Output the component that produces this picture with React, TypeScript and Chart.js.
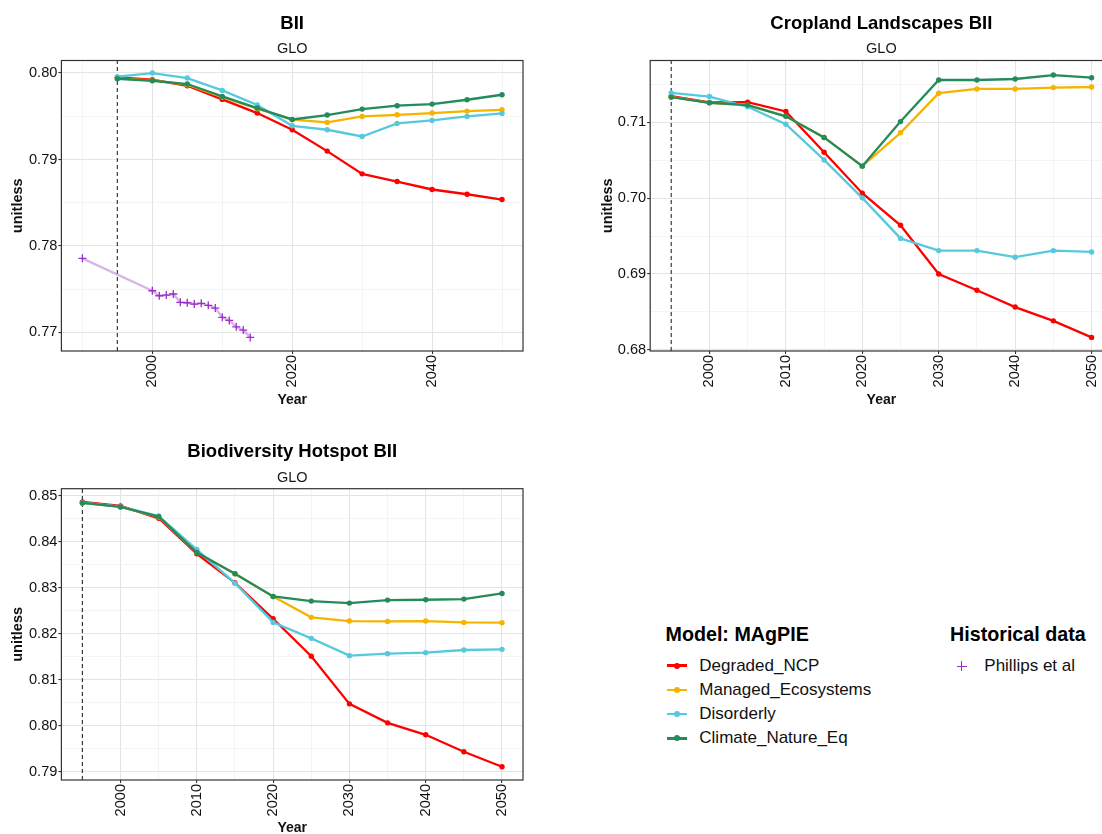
import React, { useEffect, useRef } from "react";
import { Chart, registerables } from "chart.js";

Chart.register(...registerables);

const FONT = '"Liberation Sans", Arial, Helvetica, sans-serif';

// ---------- data ----------
const scenarioNames = ["Degraded_NCP", "Managed_Ecosystems", "Disorderly", "Climate_Nature_Eq"];
const scenarioColors = ["#ff0000", "#f5b400", "#56c9dd", "#238b5c"];
const histName = "Phillips et al";
const histColor = "#9a2fc9";
const histLineColor = "rgba(190, 130, 220, 0.6)";

const years = [1995, 2000, 2005, 2010, 2015, 2020, 2025, 2030, 2035, 2040, 2045, 2050];

// Panel 1: BII
const biiDegraded = [0.7995, 0.79923, 0.79853, 0.79695, 0.79537, 0.79344, 0.79097, 0.78834, 0.78745, 0.78653, 0.78598, 0.78537];
const biiManaged = [0.79938, 0.79915, 0.79865, 0.79722, 0.79587, 0.7946, 0.79429, 0.79498, 0.79517, 0.79537, 0.7956, 0.79575];
const biiDisorderly = [0.79958, 0.8, 0.79942, 0.79799, 0.7963, 0.7939, 0.79344, 0.79266, 0.79417, 0.79452, 0.79498, 0.79533];
const biiClimate = [0.79934, 0.79911, 0.79873, 0.7973, 0.79595, 0.79463, 0.79514, 0.79583, 0.79622, 0.79641, 0.79691, 0.79749];

const histYears = [1990, 2000, 2001, 2002, 2003, 2004, 2005, 2006, 2007, 2008, 2009, 2010, 2011, 2012, 2013, 2014];
const histBII = [0.77857, 0.77482, 0.77424, 0.77432, 0.77444, 0.77348, 0.77343, 0.77328, 0.77336, 0.77313, 0.77281, 0.77174, 0.77139, 0.77065, 0.77027, 0.76942];

// Panel 2: Cropland Landscapes BII
const cropDegraded = [0.71343, 0.71261, 0.71265, 0.71143, 0.70604, 0.70065, 0.69643, 0.69, 0.68787, 0.68565, 0.68383, 0.68165];
const cropManaged = [0.71335, 0.71257, 0.71226, 0.71078, 0.708, 0.70422, 0.70861, 0.71383, 0.71439, 0.71439, 0.71457, 0.71465];
const cropDisorderly = [0.71387, 0.71339, 0.71204, 0.70974, 0.70504, 0.70004, 0.6947, 0.69309, 0.69309, 0.69222, 0.69309, 0.69291];
const cropClimate = [0.7133, 0.71257, 0.71226, 0.71078, 0.708, 0.70422, 0.71009, 0.71557, 0.71557, 0.7157, 0.71622, 0.71587];

// Panel 3: Biodiversity Hotspot BII
const hotDegraded = [0.84863, 0.84776, 0.84508, 0.83735, 0.83106, 0.82325, 0.81508, 0.80474, 0.80061, 0.79801, 0.79432, 0.79107];
const hotManaged = [0.84841, 0.84754, 0.84537, 0.83764, 0.83301, 0.82809, 0.82354, 0.82274, 0.82267, 0.82274, 0.82245, 0.82238];
const hotDisorderly = [0.84848, 0.84761, 0.84559, 0.83829, 0.83098, 0.82245, 0.81898, 0.81522, 0.81565, 0.81587, 0.81645, 0.81659];
const hotClimate = [0.84841, 0.84754, 0.84544, 0.83764, 0.83301, 0.82809, 0.82708, 0.82664, 0.8273, 0.82737, 0.82751, 0.82874];

const refYear = 1995;

// ticks
const biiXMajor = [2000, 2020, 2040];
const biiXMinor = [1990, 2010, 2030, 2050];
const biiYMajor = [0.77, 0.78, 0.79, 0.8];
const biiYMinor = [0.775, 0.785, 0.795];
const decXMajor = [2000, 2010, 2020, 2030, 2040, 2050];
const decXMinor = [1995, 2005, 2015, 2025, 2035, 2045];
const cropYMajor = [0.68, 0.69, 0.7, 0.71];
const cropYMinor = [0.685, 0.695, 0.705, 0.715];
const hotYMajor = [0.79, 0.8, 0.81, 0.82, 0.83, 0.84, 0.85];
const hotYMinor = [0.795, 0.805, 0.815, 0.825, 0.835, 0.845];

// axis limits
const biiXRange = [1987, 2053];
const biiYRange = [0.76785, 0.80145];
const cropXRange = [1992.25, 2052.75];
const cropYRange = [0.67986, 0.71814];
const hotXRange = [1992.25, 2052.75];
const hotYRange = [0.78819, 0.85151];

// ---------- helpers ----------
const isIn = (v: number, arr: number[]) => arr.some((m) => Math.abs(m - v) < 1e-7);

const framePlugin = {
  id: "frame",
  afterDatasetsDraw(chart: any) {
    const { ctx, chartArea } = chart;
    const { left, top, right, bottom } = chartArea;
    ctx.save();
    ctx.strokeStyle = "#333333";
    ctx.lineWidth = 1.2;
    ctx.strokeRect(left, top, right - left, bottom - top);
    ctx.restore();
  },
};

type PanelProps = {
  left: number;
  top: number;
  width: number;
  height: number;
  pad: { left: number; right: number; top: number; bottom: number };
  yAxisWidth: number;
  xAxisHeight: number;
  xRange: number[];
  yRange: number[];
  xMajor: number[];
  xMinor: number[];
  yMajor: number[];
  yMinor: number[];
  series: number[][];
  hist?: { x: number[]; y: number[] };
  yTitlePad: number;
  xTitlePad: number;
};

function Panel(p: PanelProps) {
  const ref = useRef<HTMLCanvasElement | null>(null);
  useEffect(() => {
    if (!ref.current) return;
    const datasets: any[] = [];
    datasets.push({
      label: "ref",
      data: [
        { x: refYear, y: p.yRange[0] },
        { x: refYear, y: p.yRange[1] },
      ],
      borderColor: "#3a3a3a",
      borderWidth: 1.2,
      borderDash: [4, 3],
      pointRadius: 0,
      order: 10,
    });
    if (p.hist) {
      datasets.push({
        label: histName,
        data: p.hist.x.map((x, i) => ({ x, y: p.hist!.y[i] })),
        borderColor: histLineColor,
        borderWidth: 2.4,
        pointStyle: "cross",
        pointRadius: 4,
        pointBorderColor: histColor,
        pointBorderWidth: 1.3,
        pointBackgroundColor: histColor,
        order: 6,
      });
    }
    const orders = [4, 3, 2, 1];
    p.series.forEach((vals, k) => {
      datasets.push({
        label: scenarioNames[k],
        data: years.map((x, i) => ({ x, y: vals[i] })),
        borderColor: scenarioColors[k],
        backgroundColor: scenarioColors[k],
        borderWidth: 2.3,
        pointRadius: 2.7,
        pointBorderWidth: 0,
        pointBackgroundColor: scenarioColors[k],
        order: orders[k],
      });
    });

    const gridOpts = (majors: number[]) => ({
      display: true,
      drawOnChartArea: true,
      drawTicks: true,
      tickLength: 3,
      color: (c: any) => (c.tick && isIn(c.tick.value, majors) ? "#e4e4e4" : "#efefef"),
      lineWidth: (c: any) => (c.tick && isIn(c.tick.value, majors) ? 1.1 : 0.7),
      tickColor: (c: any) => (c.tick && isIn(c.tick.value, majors) ? "#333333" : "rgba(0,0,0,0)"),
      tickWidth: 1.1,
    });

    const chart = new Chart(ref.current, {
      type: "line",
      data: { datasets },
      plugins: [framePlugin],
      options: {
        animation: false,
        responsive: false,
        maintainAspectRatio: false,
        devicePixelRatio: 1,
        layout: { padding: p.pad },
        plugins: { legend: { display: false }, tooltip: { enabled: false } },
        elements: { line: { tension: 0 } },
        scales: {
          x: {
            type: "linear",
            min: p.xRange[0],
            max: p.xRange[1],
            afterBuildTicks: (s: any) => {
              s.ticks = [...p.xMajor, ...p.xMinor].sort((a, b) => a - b).map((v) => ({ value: v }));
            },
            afterFit: (s: any) => {
              s.height = p.xAxisHeight;
            },
            ticks: {
              autoSkip: false,
              minRotation: 90,
              maxRotation: 90,
              padding: 1,
              color: "#111111",
              font: { family: FONT, size: 14.6 },
              callback: (v: any) => (isIn(Number(v), p.xMajor) ? String(v) : ""),
            },
            grid: gridOpts(p.xMajor),
            border: { display: false },
            title: {
              display: true,
              text: "Year",
              color: "#111111",
              font: { family: FONT, size: 14, weight: "bold" },
              padding: { top: 0, bottom: p.xTitlePad },
            },
          },
          y: {
            type: "linear",
            min: p.yRange[0],
            max: p.yRange[1],
            afterBuildTicks: (s: any) => {
              s.ticks = [...p.yMajor, ...p.yMinor].sort((a, b) => a - b).map((v) => ({ value: v }));
            },
            afterFit: (s: any) => {
              s.width = p.yAxisWidth;
            },
            ticks: {
              autoSkip: false,
              padding: 1,
              color: "#111111",
              font: { family: FONT, size: 14.6 },
              callback: (v: any) => (isIn(Number(v), p.yMajor) ? Number(v).toFixed(2) : ""),
            },
            grid: gridOpts(p.yMajor),
            border: { display: false },
            title: {
              display: true,
              text: "unitless",
              color: "#111111",
              font: { family: FONT, size: 14.5, weight: "bold" },
              padding: { top: p.yTitlePad, bottom: 0 },
            },
          },
        },
      } as any,
    });
    return () => chart.destroy();
  }, []);
  return (
    <canvas
      ref={ref}
      width={p.width}
      height={p.height}
      style={{ position: "absolute", left: p.left, top: p.top, width: p.width, height: p.height }}
    />
  );
}

function Title(props: { text: string; sub: string; cx0: number; cx1: number; ty: number; sy: number }) {
  const w = props.cx1 - props.cx0;
  return (
    <>
      <div
        style={{
          position: "absolute",
          left: props.cx0,
          width: w,
          top: props.ty - 12,
          height: 24,
          lineHeight: "24px",
          textAlign: "center",
          fontSize: 18.5,
          fontWeight: "bold",
          color: "#000",
          whiteSpace: "nowrap",
        }}
      >
        {props.text}
      </div>
      <div
        style={{
          position: "absolute",
          left: props.cx0,
          width: w,
          top: props.sy - 10,
          height: 20,
          lineHeight: "20px",
          textAlign: "center",
          fontSize: 14.5,
          color: "#1a1a1a",
          whiteSpace: "nowrap",
        }}
      >
        {props.sub}
      </div>
    </>
  );
}

function Legend() {
  const itemY = [665, 689.3, 713.6, 737.9];
  return (
    <>
      <div
        style={{
          position: "absolute",
          left: 665.5,
          top: 633.7 - 12,
          height: 24,
          lineHeight: "24px",
          fontSize: 19.7,
          fontWeight: "bold",
          color: "#000",
          whiteSpace: "nowrap",
        }}
      >
        Model: MAgPIE
      </div>
      {scenarioNames.map((n, i) => (
        <React.Fragment key={n}>
          <div
            style={{
              position: "absolute",
              left: 667,
              top: itemY[i] + 0.5 - 1.3,
              width: 20,
              height: 2.6,
              background: scenarioColors[i],
            }}
          />
          <div
            style={{
              position: "absolute",
              left: 677 - 3,
              top: itemY[i] + 0.5 - 3,
              width: 6,
              height: 6,
              borderRadius: 3,
              background: scenarioColors[i],
            }}
          />
          <div
            style={{
              position: "absolute",
              left: 699.3,
              top: itemY[i] - 10.5,
              height: 21,
              lineHeight: "21px",
              fontSize: 17,
              color: "#111",
              whiteSpace: "nowrap",
            }}
          >
            {n}
          </div>
        </React.Fragment>
      ))}
      <div
        style={{
          position: "absolute",
          left: 950,
          top: 633.7 - 12,
          height: 24,
          lineHeight: "24px",
          fontSize: 19.7,
          fontWeight: "bold",
          color: "#000",
          whiteSpace: "nowrap",
        }}
      >
        Historical data
      </div>
      <div style={{ position: "absolute", left: 956.7, top: 666.2 - 0.65, width: 10, height: 1.3, background: histColor }} />
      <div style={{ position: "absolute", left: 961.7 - 0.65, top: 661.2, width: 1.3, height: 10, background: histColor }} />
      <div
        style={{
          position: "absolute",
          left: 984.3,
          top: itemY[0] - 10.5,
          height: 21,
          lineHeight: "21px",
          fontSize: 17,
          color: "#111",
          whiteSpace: "nowrap",
        }}
      >
        {histName}
      </div>
    </>
  );
}

export default function App() {
  return (
    <div
      style={{
        position: "absolute",
        left: 0,
        top: 0,
        width: 1102,
        height: 834,
        overflow: "hidden",
        background: "#ffffff",
        fontFamily: FONT,
      }}
    >
      <Panel
        left={0}
        top={0}
        width={551}
        height={415}
        pad={{ left: 0, right: 28, top: 60.5, bottom: 0 }}
        yAxisWidth={61.4}
        xAxisHeight={64}
        xRange={biiXRange}
        yRange={biiYRange}
        xMajor={biiXMajor}
        xMinor={biiXMinor}
        yMajor={biiYMajor}
        yMinor={biiYMinor}
        series={[biiDegraded, biiManaged, biiDisorderly, biiClimate]}
        hist={{ x: histYears, y: histBII }}
        yTitlePad={9.2}
        xTitlePad={6.6}
      />
      <Panel
        left={560}
        top={0}
        width={560}
        height={415}
        pad={{ left: 28, right: 7.4, top: 60.5, bottom: 0 }}
        yAxisWidth={62.2}
        xAxisHeight={64}
        xRange={cropXRange}
        yRange={cropYRange}
        xMajor={decXMajor}
        xMinor={decXMinor}
        yMajor={cropYMajor}
        yMinor={cropYMinor}
        series={[cropDegraded, cropManaged, cropDisorderly, cropClimate]}
        yTitlePad={10.8}
        xTitlePad={6.6}
      />
      <Panel
        left={0}
        top={430}
        width={551}
        height={420}
        pad={{ left: 0, right: 28, top: 58.7, bottom: 0 }}
        yAxisWidth={61.4}
        xAxisHeight={70}
        xRange={hotXRange}
        yRange={hotYRange}
        xMajor={decXMajor}
        xMinor={decXMinor}
        yMajor={hotYMajor}
        yMinor={hotYMinor}
        series={[hotDegraded, hotManaged, hotDisorderly, hotClimate]}
        yTitlePad={9.2}
        xTitlePad={13.3}
      />
      <Title text="BII" sub="GLO" cx0={61.4} cx1={523} ty={22.7} sy={48} />
      <Title text="Cropland Landscapes BII" sub="GLO" cx0={650.2} cx1={1112.6} ty={22.5} sy={48} />
      <Title text="Biodiversity Hotspot BII" sub="GLO" cx0={61.4} cx1={523} ty={451} sy={477} />
      <Legend />
    </div>
  );
}
